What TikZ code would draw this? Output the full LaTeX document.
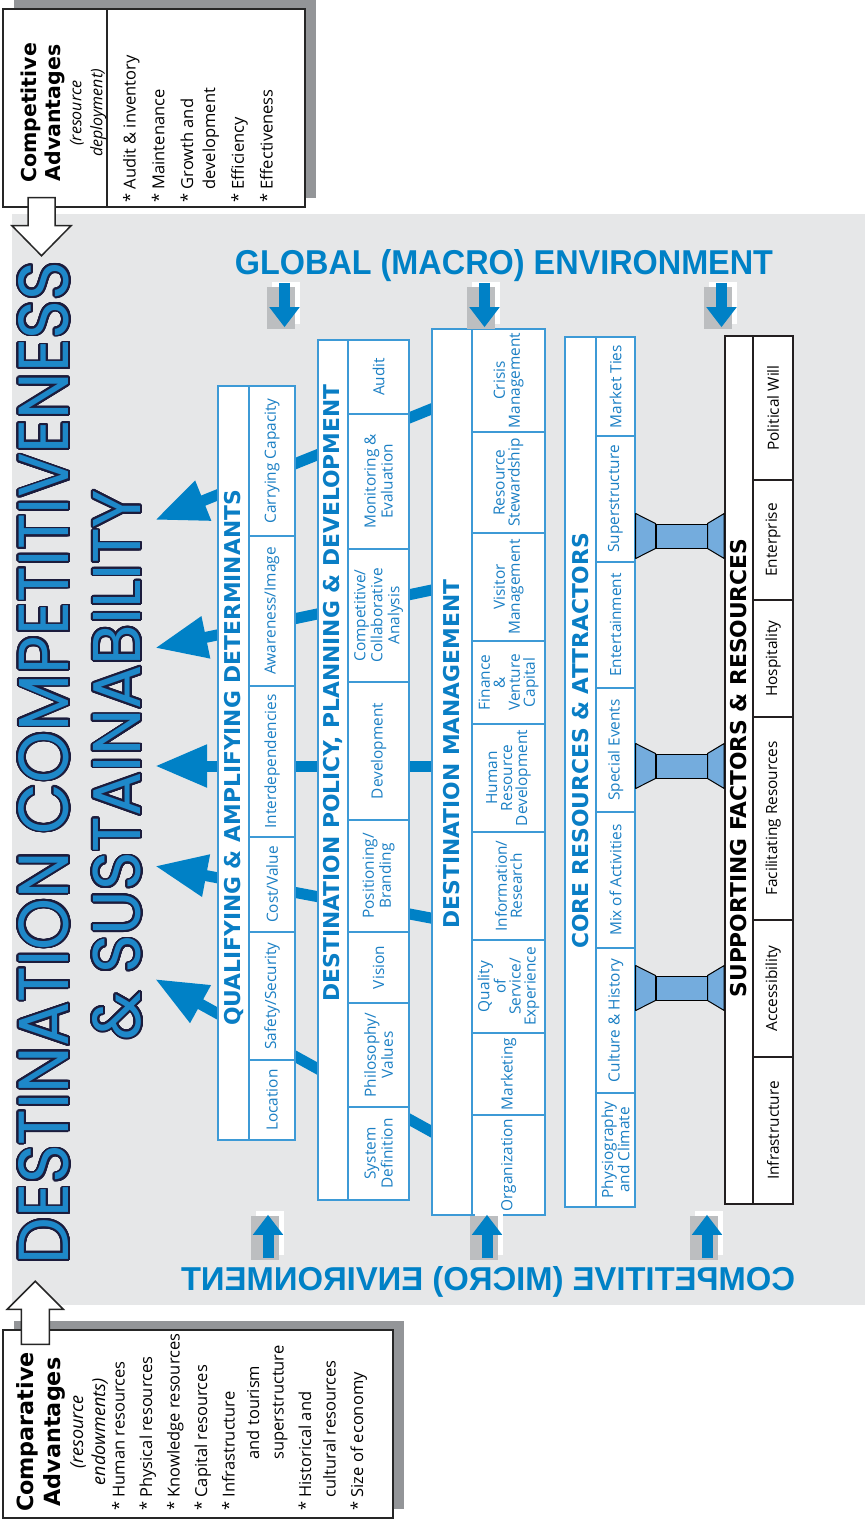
\documentclass[tikz,border=0pt]{standalone}
\usepackage{graphicx}
\usepackage{fontspec}
\setmainfont{Open Sans}
\newfontfamily\headfont{DejaVu Sans}
\newfontfamily\envfont{Liberation Sans}
\newfontfamily\titlefont{Poppins}
\usepackage[copies]{contour}
\contourlength{0.28pt}
\contournumber{32}
\usetikzlibrary{arrows.meta, calc, shadows, backgrounds}
\definecolor{panelgray}{HTML}{E6E7E8}
\definecolor{boxshadow}{HTML}{939598}
\definecolor{envgray}{HTML}{BCBEC0}
\definecolor{flowblue}{HTML}{0081C6}
\definecolor{cellline}{HTML}{3D9AD6}
\definecolor{cellblue}{HTML}{1A7FC4}
\definecolor{headblue}{HTML}{0A7EC5}
\definecolor{bridgeblue}{HTML}{74ACDD}
\definecolor{titlefill}{HTML}{1E88C9}
\definecolor{titleedge}{HTML}{1C1C3C}
\definecolor{supline}{HTML}{231F20}
\newcommand{\cellfont}{\fontsize{15.4}{17}\selectfont}
\newcommand{\tightfont}{\fontsize{15.4}{15}\selectfont}
\newcommand{\colhead}{\headfont\bfseries\fontsize{21.8}{22}\selectfont}
\newcommand{\advhead}{\headfont\bfseries}
\newcommand{\bul}{*\ }
\newcommand{\ind}{\hphantom{*\ }}

\begin{document}
\begin{tikzpicture}[
    x=1pt, y=-1pt,
    every node/.style={inner sep=0pt},
    colframe/.style={draw=cellline, fill=white, line width=1.3pt},
    cell/.style={draw=cellline, fill=white, line width=1.1pt, rotate=90,
        align=center, text=cellblue, font=\cellfont},
    dmcell/.style={cell, font=\tightfont},
    supframe/.style={draw=supline, fill=white, line width=1.6pt},
    supcell/.style={cell, draw=supline, line width=1.3pt, text=black},
    coltitle/.style={rotate=90, text=headblue, font=\colhead},
    flow/.style={draw=flowblue, line width=11pt, -{Triangle[length=52pt, width=40pt]}},
    bridgebox/.style={draw=black, line width=1pt, fill=bridgeblue,
        minimum width=51pt, minimum height=24pt},
    bridgeend/.style={draw=black, line width=1pt, fill=bridgeblue, line join=round},
    envbox/.style={fill=envgray, minimum width=28pt,
        drop shadow={fill=white, opacity=1, shadow xshift=5pt, shadow yshift=5pt}},
    envarrow/.style={draw=flowblue, line width=11pt, -{Triangle[length=20pt, width=29pt]}},
    envlabel/.style={text=flowblue, font=\envfont\bfseries, anchor=base},
    advbox/.style={draw=black!85, line width=1.5pt, fill=white,
        drop shadow={fill=boxshadow, opacity=1, shadow xshift=11pt, shadow yshift=9pt}},
    hollow/.style={draw=black!85, line width=1.5pt, fill=white},
]

% ===== Qualifying & amplifying determinants =====
\node[colframe, minimum width=77pt, minimum height=754pt] (qual) at (256.5,763) {};
\node[coltitle] (qualt) at (233.5,758) {QUALIFYING \& AMPLIFYING DETERMINANTS};
\node[cell, minimum width=150pt, minimum height=46pt] (q1) at (272,461) {Carrying Capacity};
\node[cell, minimum width=150pt, minimum height=46pt] (q2) at (272,611) {Awareness/Image};
\node[cell, minimum width=151pt, minimum height=46pt] (q3) at (272,761.5) {Interdependencies};
\node[cell, minimum width=95pt, minimum height=46pt] (q4) at (272,884.5) {Cost/Value};
\node[cell, minimum width=128pt, minimum height=46pt] (q5) at (272,996) {Safety/Security};
\node[cell, minimum width=80pt, minimum height=46pt] (q6) at (272,1100) {Location};

% ===== Destination policy, planning & development =====
\node[colframe, minimum width=91pt, minimum height=860pt] (pol) at (363.5,770) {};
\node[coltitle] (polt) at (333,693) {DESTINATION POLICY, PLANNING \& DEVELOPMENT};
\node[cell, minimum width=74pt, minimum height=61pt] (p1) at (378.5,377) {Audit};
\node[cell, minimum width=135pt, minimum height=61pt] (p2) at (378.5,481.5) {Monitoring \&\\Evaluation};
\node[cell, minimum width=133pt, minimum height=61pt] (p3) at (378.5,615.5) {Competitive/\\Collaborative\\Analysis};
\node[cell, minimum width=138pt, minimum height=61pt] (p4) at (378.5,751) {Development};
\node[cell, minimum width=112pt, minimum height=61pt] (p5) at (378.5,876) {Positioning/\\Branding};
\node[cell, minimum width=71pt, minimum height=61pt] (p6) at (378.5,967.5) {Vision};
\node[cell, minimum width=104pt, minimum height=61pt] (p7) at (378.5,1055) {Philosophy/\\Values};
\node[cell, minimum width=93pt, minimum height=61pt] (p8) at (378.5,1153.5) {System\\Definition};

% ===== Destination management =====
\node[colframe, minimum width=113pt, minimum height=886pt] (dm) at (488.5,772) {};
\node[coltitle] (dmt) at (452,754) {DESTINATION MANAGEMENT};
\node[dmcell, minimum width=103pt, minimum height=73pt] (d1) at (508.5,380.5) {Crisis\\Management};
\node[dmcell, minimum width=101pt, minimum height=73pt] (d2) at (508.5,482.5) {Resource\\Stewardship};
\node[dmcell, minimum width=108pt, minimum height=73pt] (d3) at (508.5,587) {Visitor\\Management};
\node[dmcell, minimum width=83pt, minimum height=73pt] (d4) at (508.5,682.5) {Finance\\\&\\Venture\\Capital};
\node[dmcell, minimum width=108pt, minimum height=73pt] (d5) at (508.5,778) {Human\\Resource\\Development};
\node[dmcell, minimum width=108pt, minimum height=73pt] (d6) at (508.5,886) {Information/\\Research};
\node[dmcell, minimum width=93pt, minimum height=73pt] (d7) at (508.5,986.5) {Quality\\of\\Service/\\Experience};
\node[dmcell, minimum width=82pt, minimum height=73pt] (d8) at (508.5,1074) {Marketing};
\node[dmcell, minimum width=100pt, minimum height=73pt] (d9) at (508.5,1165) {Organization};

% ===== Core resources & attractors =====
\node[colframe, minimum width=70pt, minimum height=870pt] (core) at (600,772) {};
\node[coltitle] (coret) at (580.5,741) {CORE RESOURCES \& ATTRACTORS};
\node[cell, minimum width=99pt, minimum height=39pt] (c1) at (615.5,386.5) {Market Ties};
\node[cell, minimum width=126pt, minimum height=39pt] (c2) at (615.5,499) {Superstructure};
\node[cell, minimum width=126pt, minimum height=39pt] (c3) at (615.5,625) {Entertainment};
\node[cell, minimum width=124pt, minimum height=39pt] (c4) at (615.5,750) {Special Events};
\node[cell, minimum width=136pt, minimum height=39pt] (c5) at (615.5,880) {Mix of Activities};
\node[cell, minimum width=145pt, minimum height=39pt] (c6) at (615.5,1020.5) {Culture \& History};
\node[dmcell, minimum width=114pt, minimum height=39pt] (c7) at (615.5,1150) {Physiography\\and Climate};

% ===== Supporting factors & resources =====
\node[supframe, minimum width=68pt, minimum height=868pt] (supp) at (759,770) {};
\node[coltitle, text=black] (suppt) at (739,768) {SUPPORTING FACTORS \& RESOURCES};
\node[supcell, minimum width=144pt, minimum height=40pt] (s1) at (773,408) {Political Will};
\node[supcell, minimum width=120pt, minimum height=40pt] (s2) at (773,540) {Enterprise};
\node[supcell, minimum width=117pt, minimum height=40pt] (s3) at (773,658.5) {Hospitality};
\node[supcell, minimum width=203pt, minimum height=40pt] (s4) at (773,818.5) {Facilitating Resources};
\node[supcell, minimum width=137pt, minimum height=40pt] (s5) at (773,988.5) {Accessibility};
\node[supcell, minimum width=147pt, minimum height=40pt] (s6) at (773,1130.5) {Infrastructure};

% ===== Bridges: core -- supporting =====
\node[bridgebox] (br1) at (681.5,536) {};
\node[bridgebox] (br2) at (681.5,766) {};
\node[bridgebox] (br3) at (681.5,988) {};
\draw[bridgeend] (br1.north west) -- ([yshift=10pt]br1.north west -| core.east) -- ([yshift=-10pt]br1.south west -| core.east) -- (br1.south west) -- cycle;
\draw[bridgeend] (br1.north east) -- ([yshift=10pt]br1.north east -| supp.west) -- ([yshift=-10pt]br1.south east -| supp.west) -- (br1.south east) -- cycle;
\draw[bridgeend] (br2.north west) -- ([yshift=10pt]br2.north west -| core.east) -- ([yshift=-10pt]br2.south west -| core.east) -- (br2.south west) -- cycle;
\draw[bridgeend] (br2.north east) -- ([yshift=10pt]br2.north east -| supp.west) -- ([yshift=-10pt]br2.south east -| supp.west) -- (br2.south east) -- cycle;
\draw[bridgeend] (br3.north west) -- ([yshift=10pt]br3.north west -| core.east) -- ([yshift=-10pt]br3.south west -| core.east) -- (br3.south west) -- cycle;
\draw[bridgeend] (br3.north east) -- ([yshift=10pt]br3.north east -| supp.west) -- ([yshift=-10pt]br3.south east -| supp.west) -- (br3.south east) -- cycle;

% ===== Environments =====
\node[envlabel] (globalt) at (504,275) {\resizebox{538pt}{25pt}{GLOBAL (MACRO) ENVIRONMENT}};
\node[envlabel, xscale=-1] (microt) at (488,1290) {\resizebox{614pt}{24pt}{COMPETITIVE (MICRO) ENVIRONMENT}};

\node[envbox, minimum height=42pt] (g1) at (281,308) {};
\node[envbox, minimum height=42pt] (g2) at (481,308) {};
\node[envbox, minimum height=42pt] (g3) at (718,308) {};
\draw[envarrow] ([xshift=3.5pt,yshift=4pt]g1.north) -- ([xshift=3.5pt,yshift=2pt]g1.south);
\draw[envarrow] ([xshift=3.5pt,yshift=4pt]g2.north) -- ([xshift=3.5pt,yshift=2pt]g2.south);
\draw[envarrow] ([xshift=3.5pt,yshift=4pt]g3.north) -- ([xshift=3.5pt,yshift=2pt]g3.south);

\node[envbox, minimum height=44pt] (m1) at (265,1238) {};
\node[envbox, minimum height=44pt] (m2) at (484,1238) {};
\node[envbox, minimum height=44pt] (m3) at (704,1238) {};
\draw[envarrow] ([xshift=3pt,yshift=2pt]m1.south) -- ([xshift=3pt,yshift=1pt]m1.north);
\draw[envarrow] ([xshift=3pt,yshift=2pt]m2.south) -- ([xshift=3pt,yshift=1pt]m2.north);
\draw[envarrow] ([xshift=3pt,yshift=2pt]m3.south) -- ([xshift=3pt,yshift=1pt]m3.north);

% ===== Title =====
\node[rotate=90] (titleA) at (45,763)
    {\resizebox{1003pt}{50pt}{\titlefont\color{titlefill}\contour{titleedge}{DESTINATION COMPETITIVENESS}}};
\node[rotate=90] (titleB) at (118,765)
    {\resizebox{550pt}{48pt}{\titlefont\color{titlefill}\contour{titleedge}{\& SUSTAINABILITY}}};

% ===== Competitive advantages =====
\node[advbox, minimum width=104pt, minimum height=198pt] (compleft) at (55,108) {};
\node[advbox, minimum width=198pt, minimum height=198pt] (compright) at (206,108) {};
\node[rotate=90, align=center, font=\fontsize{16}{21}\selectfont] (comphead) at (63.5,113)
    {{\advhead\fontsize{20.5}{21}\selectfont Competitive}\\[3pt]{\advhead\fontsize{20.5}{21}\selectfont Advantages}\\{\itshape (resource}\\{\itshape deployment)}};
\node[rotate=90, anchor=north west, align=left, font=\fontsize{16.5}{22}\selectfont] (complist) at (123,203)
    {\bul Audit \& inventory\\[6.75pt]\bul Maintenance\\[6.75pt]\bul Growth and\\\ind development\\[6.75pt]\bul Efficiency\\[6.75pt]\bul Effectiveness};

\draw[hollow] ([xshift=-27pt,yshift=10pt]compleft.south) -- ++(0,28) -- ++(-16,0) -- ++(29.5,30)
    -- ++(29.5,-30) -- ++(-16,0) -- ++(0,-28) -- cycle;

% ===== Comparative advantages =====
\node[advbox, minimum width=390pt, minimum height=188pt] (compar) at (198,1424) {};
\node[rotate=90, align=center, font=\fontsize{18}{22}\selectfont] (comparhead) at (62,1432)
    {{\advhead\fontsize{22.3}{22}\selectfont Comparative}\\[5pt]{\advhead\fontsize{22.3}{22}\selectfont Advantages}\\[1pt]{\itshape (resource}\\{\itshape endowments)}};
\node[rotate=90, anchor=north west, align=left, font=\fontsize{16.5}{24.5}\selectfont] (comparlist) at (112,1511)
    {\bul Human resources\\[3pt]\bul Physical resources\\[3pt]\bul Knowledge resources\\[3pt]\bul Capital resources\\[3pt]\bul Infrastructure\\\ind\hspace*{2.3em}and tourism\\\ind\hspace*{2.3em}superstructure\\[3pt]\bul Historical and\\\ind cultural resources\\[3pt]\bul Size of economy};

\draw[hollow] ([xshift=19pt,yshift=-15pt]compar.north west) -- ++(0,-35) -- ++(-14,0) -- ++(28,-28)
    -- ++(28,28) -- ++(-14,0) -- ++(0,35) -- cycle;

% ===== Panel and flows to the title (behind) =====
\begin{scope}[on background layer]
    \fill[white] (0,0) rectangle (865,1522);
    \fill[panelgray] (12,214) rectangle (865,1305);
    \coordinate (tipA) at (155,520);
    \coordinate (tipB) at (155,648);
    \coordinate (tipC) at (155,766);
    \coordinate (tipD) at (155,866);
    \coordinate (tipE) at (155,979);
    \draw[flow] ($(dm.west |- 0,405)+(10,0)$) -- (tipA);
    \draw[flow] ($(dm.west |- 0,588)+(10,0)$) -- (tipB);
    \draw[flow] ($(dm.west |- 0,766)+(10,0)$) -- (tipC);
    \draw[flow] ($(dm.west |- 0,920)+(10,0)$) -- (tipD);
    \draw[flow] ($(dm.west |- 0,1137)+(10,0)$) -- (tipE);
\end{scope}
\useasboundingbox (0,0) rectangle (865,1522);

\end{tikzpicture}
\end{document}
